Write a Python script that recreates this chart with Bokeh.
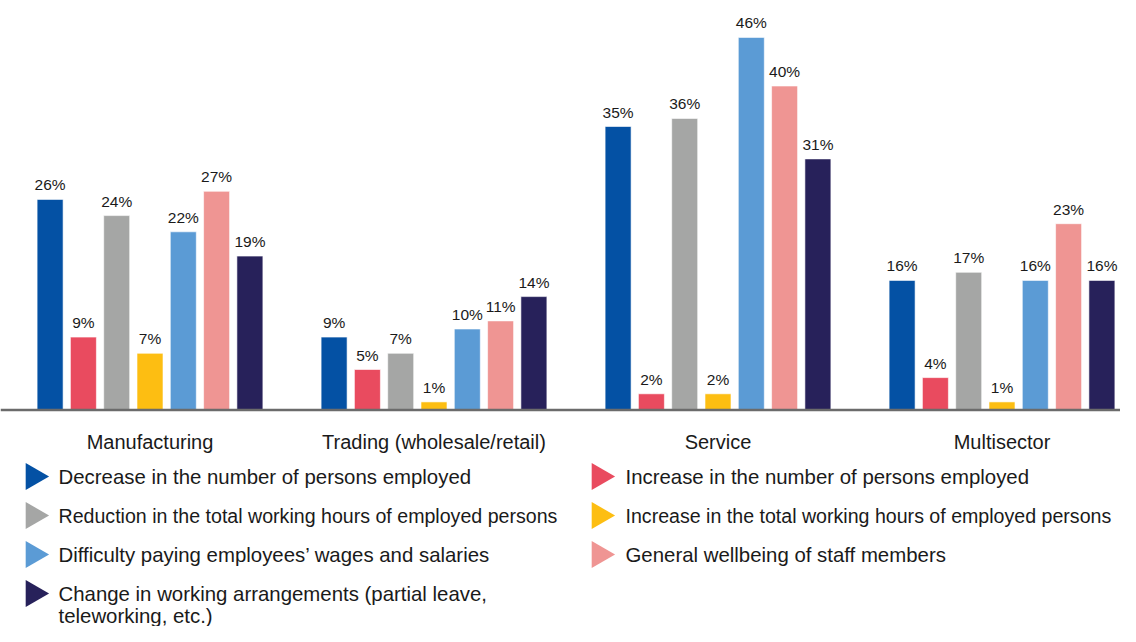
import numpy as np
from bokeh.plotting import figure
from bokeh.models import ColumnDataSource, Range1d, Span
from bokeh.core.properties import value
from bokeh.embed import file_html
from bokeh.resources import INLINE

# ---------------- data ----------------
categories = ["Manufacturing", "Trading (wholesale/retail)", "Service", "Multisector"]
series_names = [
    "Decrease in the number of persons employed",
    "Increase in the number of persons employed",
    "Reduction in the total working hours of employed persons",
    "Increase in the total working hours of employed persons",
    "Difficulty paying employees\u2019 wages and salaries",
    "General wellbeing of staff members",
    "Change in working arrangements (partial leave,\nteleworking, etc.)",
]
decrease_persons = [26, 9, 35, 16]
increase_persons = [9, 5, 2, 4]
reduction_hours = [24, 7, 36, 17]
increase_hours = [7, 1, 2, 1]
difficulty_wages = [22, 10, 46, 16]
wellbeing = [27, 11, 40, 23]
working_arrangements = [19, 14, 31, 16]
series_values = [decrease_persons, increase_persons, reduction_hours, increase_hours,
                 difficulty_wages, wellbeing, working_arrangements]
colors = ["#0451A4", "#E94B5F", "#A5A6A5", "#FDBE12", "#5B9BD5", "#EF9593", "#27215A"]

# ---------------- layout ----------------
W, H = 1120, 626
PX_X = 284.0          # pixels per category
PX_Y = 8.1            # pixels per percent
CX0 = 149.5           # pixel x of first category centre
BASE = 409.5          # pixel y of baseline (from top)
FONT = "Liberation Sans"
TXT = "#1a1a1a"

def xd(px):
    return (px - CX0) / PX_X

def yd(py):
    return (BASE - py) / PX_Y

p = figure(width=W, height=H, x_range=Range1d(xd(0), xd(W)), y_range=Range1d(yd(H), yd(0)),
           output_backend="svg", toolbar_location=None, min_border=0,
           x_axis_location=None, y_axis_location=None)
p.grid.visible = False
p.outline_line_color = None
p.background_fill_color = "white"

offset = 33.3 / PX_X
bar_w = 26.0 / PX_X
cat_idx = np.arange(len(categories))

for j, (vals, col) in enumerate(zip(series_values, colors)):
    xs = cat_idx + (j - 3) * offset
    src = ColumnDataSource(dict(x=xs, top=vals, lab=[f"{v}%" for v in vals]))
    p.vbar(x="x", top="top", bottom=0, width=bar_w, source=src,
           fill_color=col, line_color="white", line_width=0.6)
    p.text(x="x", y="top", text="lab", source=src, text_align="center",
           text_baseline="bottom", y_offset=-6, text_font=value(FONT),
           text_font_size="15.5px", text_color=TXT)

p.add_layout(Span(location=0, dimension="width", line_color="#6B6B6B", line_width=2.5))

# category labels
p.text(x=list(cat_idx.astype(float)), y=[yd(441)] * len(categories), text=categories,
       text_align="center", text_baseline="middle", text_font=value(FONT),
       text_font_size="20px", text_color=TXT)

# legend (manual, two columns of right-pointing triangles)
row_py = [476, 515, 554, 593]
col_tri_px = [33, 599]
col_txt_px = [58, 625]
item_font = ["20.4px", "20.4px", "19.6px", "19.6px", "20.4px", "20.4px", "20.4px"]
tri_x, tri_y, tri_c = [], [], []
lx, ly, lt, lf = [], [], [], []
for k, (name, col) in enumerate(zip(series_names, colors)):
    r, c = divmod(k, 2)
    tri_x.append(xd(col_tri_px[c]))
    tri_y.append(yd(row_py[r]))
    tri_c.append(col)
    for m, line in enumerate(name.split("\n")):
        lx.append(xd(col_txt_px[c]))
        ly.append(yd(row_py[r] + 22 * m))
        lt.append(line)
        lf.append(item_font[k])

p.scatter(x=tri_x, y=tri_y, marker="triangle", size=27, angle=-np.pi / 2,
          fill_color=tri_c, line_color=None)
leg_src = ColumnDataSource(dict(x=lx, y=ly, t=lt, f=lf))
p.text(x="x", y="y", text="t", source=leg_src, text_align="left", text_baseline="middle",
       text_font=value(FONT), text_font_size="f", text_color=TXT)

open("out.html", "w").write(file_html(p, INLINE))
